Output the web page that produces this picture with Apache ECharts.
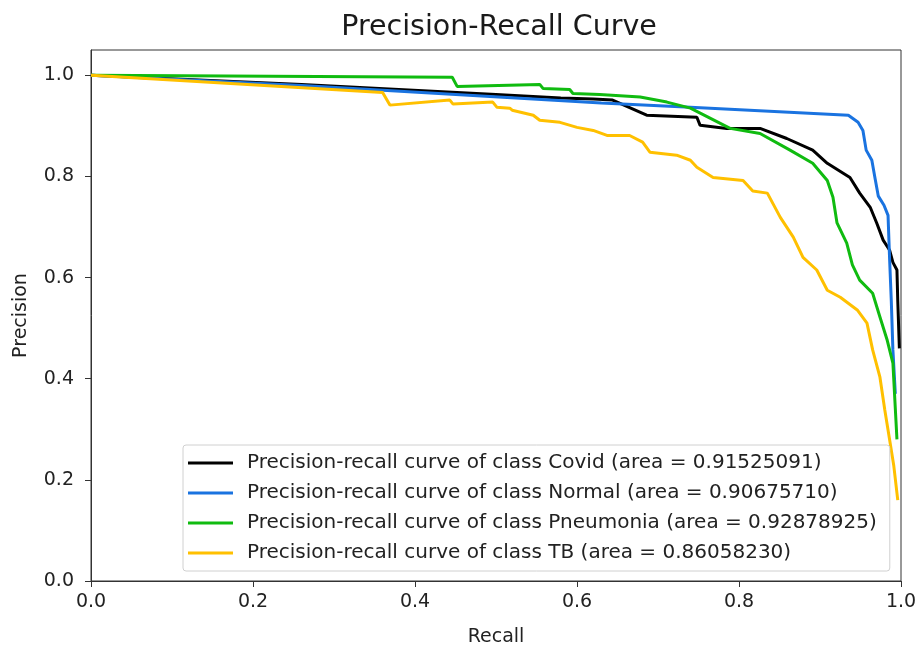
<!DOCTYPE html>
<html>
<head>
<meta charset="utf-8">
<script src="https://cdn.jsdelivr.net/npm/echarts@6/dist/echarts.min.js"></script>
<style>
  html, body { margin: 0; padding: 0; background: #fff; }
  #chart { width: 919px; height: 647px; }
</style>
</head>
<body>
<div id="chart"></div>
<script>
// values
const classNames = ["Covid", "Normal", "Pneumonia", "TB"];
const classAreas = ["0.91525091", "0.90675710", "0.92878925", "0.86058230"];
const classColors = ["#000000", "#1a73e0", "#10bb10", "#ffc000"];

const covidRecall = [0, 0.26, 0.5, 0.58, 0.62, 0.644, 0.686, 0.748, 0.752, 0.785, 0.826, 0.859, 0.891, 0.909, 0.937, 0.949, 0.962, 0.970, 0.978, 0.986, 0.990, 0.995, 0.996, 0.998];
const covidPrecision = [1.0, 0.982, 0.962, 0.955, 0.953, 0.951, 0.921, 0.917, 0.901, 0.895, 0.895, 0.875, 0.852, 0.826, 0.798, 0.767, 0.739, 0.708, 0.674, 0.654, 0.630, 0.615, 0.555, 0.46];

const normalRecall = [0, 0.26, 0.63, 0.74, 0.935, 0.947, 0.953, 0.957, 0.964, 0.968, 0.972, 0.979, 0.984, 0.986, 0.988, 0.990, 0.993];
const normalPrecision = [1.0, 0.980, 0.945, 0.937, 0.921, 0.907, 0.891, 0.852, 0.832, 0.796, 0.761, 0.743, 0.723, 0.634, 0.555, 0.457, 0.37];

const pneumoniaRecall = [0, 0.446, 0.452, 0.554, 0.558, 0.591, 0.595, 0.628, 0.678, 0.711, 0.740, 0.789, 0.826, 0.863, 0.891, 0.909, 0.916, 0.921, 0.933, 0.940, 0.949, 0.965, 0.974, 0.983, 0.990, 0.995];
const pneumoniaPrecision = [1.0, 0.996, 0.978, 0.982, 0.974, 0.972, 0.964, 0.962, 0.957, 0.947, 0.935, 0.895, 0.885, 0.852, 0.826, 0.792, 0.759, 0.708, 0.668, 0.625, 0.595, 0.569, 0.522, 0.476, 0.431, 0.28];

const tbRecall = [0, 0.360, 0.369, 0.443, 0.447, 0.496, 0.501, 0.517, 0.520, 0.546, 0.554, 0.579, 0.600, 0.620, 0.637, 0.665, 0.681, 0.690, 0.723, 0.740, 0.748, 0.768, 0.805, 0.817, 0.835, 0.851, 0.867, 0.879, 0.896, 0.909, 0.925, 0.946, 0.958, 0.965, 0.974, 0.980, 0.986, 0.991, 0.996];
const tbPrecision = [1.0, 0.966, 0.941, 0.951, 0.943, 0.947, 0.937, 0.935, 0.931, 0.921, 0.911, 0.907, 0.897, 0.891, 0.881, 0.881, 0.868, 0.848, 0.842, 0.832, 0.818, 0.798, 0.792, 0.771, 0.767, 0.719, 0.680, 0.640, 0.615, 0.575, 0.561, 0.536, 0.510, 0.457, 0.403, 0.338, 0.279, 0.229, 0.16];

const tickValues = [0, 0.2, 0.4, 0.6, 0.8, 1.0];

const recalls = [covidRecall, normalRecall, pneumoniaRecall, tbRecall];
const precisions = [covidPrecision, normalPrecision, pneumoniaPrecision, tbPrecision];

const font = "DejaVu Sans";
const chart = echarts.init(document.getElementById("chart"), null, { renderer: "canvas" });

const series = classNames.map((name, i) => ({
  name: "Precision-recall curve of class " + name + " (area = " + classAreas[i] + ")",
  type: "line",
  showSymbol: false,
  data: recalls[i].map((r, j) => [r, precisions[i][j]]),
  lineStyle: { color: classColors[i], width: 3 },
  itemStyle: { color: classColors[i] },
}));

chart.setOption({
  animation: false,
  textStyle: { fontFamily: font },
  title: {
    text: "Precision-Recall Curve",
    left: 494,
    textAlign: "center",
    top: 8,
    textStyle: { fontFamily: font, fontSize: 28.5, fontWeight: "normal", color: "#1a1a1a" },
  },
  grid: {
    left: 91, top: 50, right: 18, bottom: 66,
    outerBoundsMode: "none",
    show: true, borderColor: "#333", borderWidth: 1,
  },
  xAxis: {
    type: "value",
    min: 0, max: 1, interval: 0.2,
    name: "Recall",
    nameLocation: "middle",
    nameGap: 47,
    nameTextStyle: { fontFamily: font, fontSize: 19, color: "#222" },
    axisLine: { lineStyle: { color: "#333" } },
    axisTick: { inside: false, length: 6, lineStyle: { color: "#333" } },
    axisLabel: { fontFamily: font, fontSize: 19, color: "#222", margin: 12, formatter: v => v.toFixed(1) },
    splitLine: { show: false },
  },
  yAxis: {
    type: "value",
    min: 0, max: 1.05,
    name: "Precision",
    nameLocation: "middle",
    nameGap: 60,
    nameTextStyle: { fontFamily: font, fontSize: 19, color: "#222" },
    axisLine: { show: true, lineStyle: { color: "#333" } },
    axisTick: { show: true, inside: false, length: 6, customValues: tickValues, lineStyle: { color: "#333" } },
    axisLabel: { fontFamily: font, fontSize: 19, color: "#222", margin: 17, customValues: tickValues, formatter: v => v.toFixed(1) },
    splitLine: { show: false },
  },
  legend: {
    orient: "vertical",
    left: 183,
    top: 445,
    padding: [8, 13, 8, 5],
    itemGap: 10,
    itemWidth: 45,
    itemHeight: 3,
    icon: "rect",
    backgroundColor: "#fff",
    borderColor: "#d0d0d0",
    borderWidth: 1,
    borderRadius: 3,
    textStyle: { fontFamily: font, fontSize: 20, color: "#222", padding: [0, 0, 0, 9] },
    data: series.map(s => s.name),
  },
  series: series,
});
</script>
</body>
</html>
